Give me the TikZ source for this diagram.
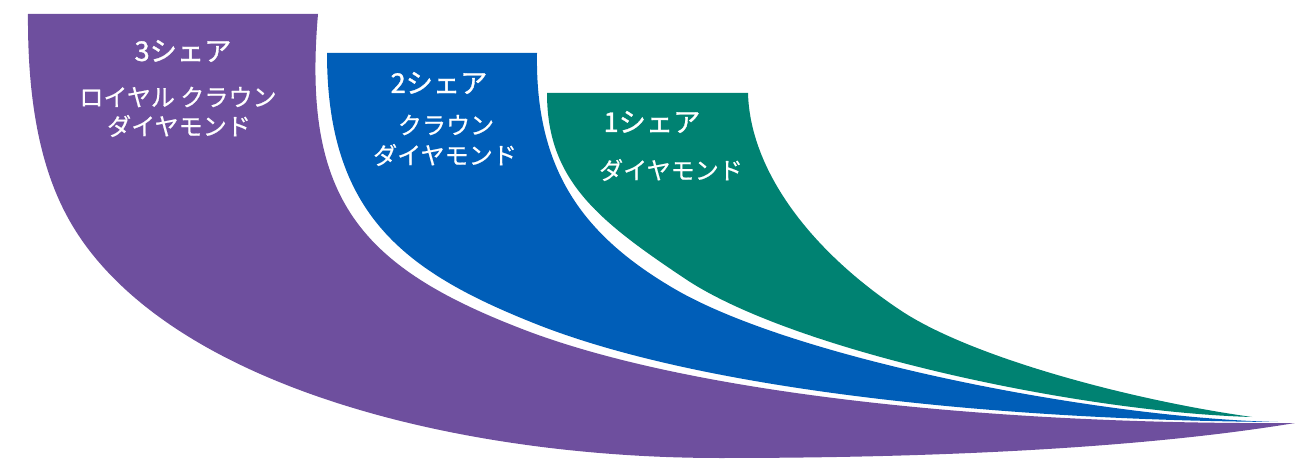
\documentclass[tikz,border=0pt]{standalone}
\usepackage{fontspec}
\newfontfamily\jp[FakeBold=0.6]{Noto Sans CJK JP}
\newfontfamily\jpt[FakeBold=1.2]{Noto Sans CJK JP}
\definecolor{purp}{HTML}{6E4F9E}
\definecolor{blu}{HTML}{005EB8}
\definecolor{grn}{HTML}{008272}
\begin{document}
\begin{tikzpicture}[x=0.02cm,y=-0.02cm,
  lbl/.style={text=white, font=\jp\fontsize{13.7}{16}\selectfont, inner sep=0pt, anchor=center},
  ttl/.style={lbl, font=\jpt\fontsize{15.5}{18}\selectfont}]
\useasboundingbox (0,0) rectangle (1295,459);
% purple band (3 shares)
\fill[purp] (28,14) -- (318,14)
  .. controls (302,200) and (360,268) .. (530,332)
  .. controls (700,395) and (1000,425) .. (1295,423)
  .. controls (1150,447) and (950,458) .. (720,458)
  .. controls (470,458) and (199,393) .. (89,250)
  .. controls (60,212) and (27,150) .. (28,14) -- cycle;
% blue band (2 shares)
\fill[blu] (327,53) -- (537,53)
  .. controls (535,170) and (583,235) .. (673,288)
  .. controls (793,359) and (1100,418) .. (1278,422)
  .. controls (990,420) and (700,389) .. (536,324)
  .. controls (405,272) and (327,215) .. (327,53) -- cycle;
% green band (1 share)
\fill[grn] (547,93) -- (748,93)
  .. controls (750,170) and (810,250) .. (900,310)
  .. controls (970,357) and (1130,400) .. (1252,417)
  .. controls (1080,412) and (797,352) .. (687,280)
  .. controls (597,220) and (547,180) .. (547,93) -- cycle;
% labels
\node[ttl] (t3) at (183,51) {3シェア};
\node[lbl] (r3a) at (178,97) {ロイヤル クラウン};
\node[lbl] (r3b) at (179,126) {ダイヤモンド};
\node[ttl] (t2) at (439,83) {2シェア};
\node[lbl] (r2a) at (446,125) {クラウン};
\node[lbl] (r2b) at (445,155) {ダイヤモンド};
\node[ttl] (t1) at (652,122) {1シェア};
\node[lbl] (r1a) at (671,170) {ダイヤモンド};
\end{tikzpicture}
\end{document}
